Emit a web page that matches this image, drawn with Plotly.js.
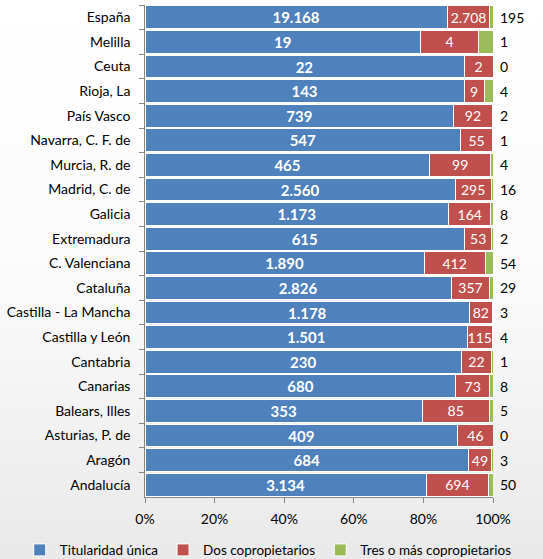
<!DOCTYPE html>
<html>
<head>
<meta charset="utf-8">
<script src="https://cdn.plot.ly/plotly-3.0.1.min.js"></script>
<style>
html, body { margin:0; padding:0; }
body { width:543px; height:559px; background: linear-gradient(to bottom, #ffffff 0%, #fbfbfb 50%, #e9e9e9 100%); }
#chart { width:543px; height:559px; }
</style>
</head>
<body>
<div id="chart"></div>
<script>
const categories = ["España","Melilla","Ceuta","Rioja, La","País Vasco","Navarra, C. F. de","Murcia, R. de","Madrid, C. de","Galicia","Extremadura","C. Valenciana","Cataluña","Castilla - La Mancha","Castilla y León","Cantabria","Canarias","Balears, Illes","Asturias, P. de","Aragón","Andalucía"];
const titularidadUnica = [19168,19,22,143,739,547,465,2560,1173,615,1890,2826,1178,1501,230,680,353,409,684,3134];
const dosCopropietarios = [2708,4,2,9,92,55,99,295,164,53,412,357,82,115,22,73,85,46,49,694];
const tresOMas = [195,1,0,4,2,1,4,16,8,2,54,29,3,4,1,8,5,0,3,50];
const tickVals = [0,20,40,60,80,100];
const tickText = ["0%","20%","40%","60%","80%","100%"];

function fmt(v){ return v.toString().replace(/\B(?=(\d{3})+(?!\d))/g, "."); }

const FONT = "Lato, 'Open Sans', sans-serif";
const common = {type:'bar', orientation:'h', y:categories, cliponaxis:false, constraintext:'none', textangle:0, hoverinfo:'x+y+name'};

const traces = [
  Object.assign({}, common, {
    name:'Titularidad única', x:titularidadUnica, text:titularidadUnica.map(fmt),
    textposition:'inside', insidetextanchor:'middle',
    insidetextfont:{color:'#ffffff', size:15, family:FONT, weight:'bold'},
    marker:{color:'#4F81BD', line:{color:'#ffffff', width:1}}
  }),
  Object.assign({}, common, {
    name:'Dos copropietarios', x:dosCopropietarios, text:dosCopropietarios.map(fmt),
    textposition:'inside', insidetextanchor:'middle',
    insidetextfont:{color:'#ffffff', size:14, family:FONT},
    marker:{color:'#C0504D', line:{color:'#ffffff', width:1}}
  }),
  Object.assign({}, common, {
    name:'Tres o más copropietarios', x:tresOMas, textposition:'none',
    marker:{color:'#9BBB59', line:{color:'#ffffff', width:1}}
  })
];

const annotations = categories.map((c, i) => ({
  x:100, y:c, xref:'x', yref:'y', text:fmt(tresOMas[i]), showarrow:false,
  xanchor:'left', xshift:5, font:{color:'#000000', size:14, family:FONT}
}));

const layout = {
  width:543, height:559,
  paper_bgcolor:'rgba(0,0,0,0)', plot_bgcolor:'rgba(0,0,0,0)',
  barmode:'stack', barnorm:'percent', bargap:0.08,
  margin:{l:145, r:50, t:5, b:62, autoexpand:false},
  font:{family:FONT, size:14, color:'#000000'},
  annotations:annotations,
  xaxis:{range:[0,100], tickvals:tickVals, ticktext:tickText, showgrid:false, zeroline:false,
         showline:true, linecolor:'#868686', linewidth:1, ticks:'outside', ticklen:5, tickcolor:'#868686',
         ticklabelstandoff:4, tickfont:{size:14, family:FONT}, fixedrange:true},
  yaxis:{type:'category', autorange:'reversed', showgrid:false, zeroline:false,
         showline:true, linecolor:'#868686', linewidth:1, ticks:'outside', ticklen:5, tickcolor:'#868686',
         tickson:'boundaries', tickfont:{size:14, family:FONT}, ticksuffix:'   ', fixedrange:true},
  legend:{orientation:'h', x:-0.36, xanchor:'left', y:-0.108, yanchor:'middle',
          itemwidth:30,
          font:{size:13.5, family:FONT}, traceorder:'normal', bgcolor:'rgba(0,0,0,0)'},
  showlegend:true
};

Plotly.newPlot('chart', traces, layout, {displayModeBar:false, staticPlot:true});
</script>
</body>
</html>
